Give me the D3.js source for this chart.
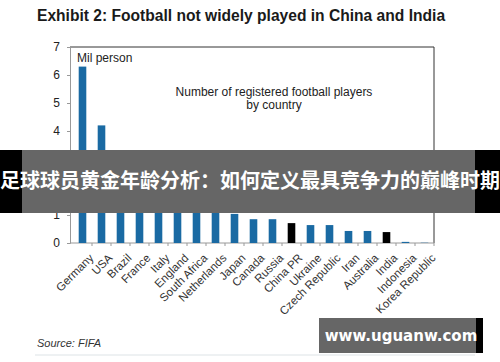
<!DOCTYPE html>
<html>
<head>
<meta charset="utf-8">
<script src="https://cdn.jsdelivr.net/npm/d3@7"></script>
<style>
  html, body { margin: 0; padding: 0; background: #fff; }
  svg { display: block; font-family: "Liberation Sans", Arial, sans-serif; }
</style>
</head>
<body>
<div id="chart"></div>
<script>
/* ---- data (million registered players) ---- */
const countries = ['Germany', 'USA', 'Brazil', 'France', 'Italy', 'England', 'South Africa',
  'Netherlands', 'Japan', 'Canada', 'Russia', 'China PR', 'Ukraine', 'Czech Republic',
  'Iran', 'Australia', 'India', 'Indonesia', 'Korea Republic'];
const players = [6.3, 4.2, 1.9, 1.8, 1.5, 1.5, 1.47, 1.12, 1.04, 0.85, 0.85, 0.71, 0.64, 0.64,
  0.43, 0.43, 0.39, 0.04, 0.01];
const highlight = ['China PR', 'India'];
const yTicks = [0, 1, 2, 3, 4, 5, 6, 7];

const width = 500, height = 362;
const plot = { left: 70, right: 434, top: 47, bottom: 243 };

const svg = d3.select('#chart').append('svg')
  .attr('width', width)
  .attr('height', height);

// Title
svg.append('text')
  .attr('x', 37).attr('y', 21)
  .attr('font-size', '15.6px')
  .attr('font-weight', 'bold')
  .attr('fill', '#1a1a1a')
  .text('Exhibit 2: Football not widely played in China and India');

const x = d3.scaleBand()
  .domain(countries)
  .range([73, plot.right])
  .paddingInner(0.6)
  .paddingOuter(0.3);

const y = d3.scaleLinear()
  .domain([0, 7])
  .range([plot.bottom, plot.top]);

// Frame (top + right)
svg.append('path')
  .attr('d', `M${plot.left},${plot.top}H${plot.right}V${plot.bottom}`)
  .attr('fill', 'none')
  .attr('stroke', '#333')
  .attr('stroke-width', 1);

// Y axis
const yAxis = svg.append('g')
  .attr('transform', `translate(${plot.left},0)`)
  .call(d3.axisLeft(y).tickValues(yTicks).tickSize(3).tickPadding(7).tickFormat(d3.format('d')));
yAxis.select('.domain').attr('stroke', '#999');
yAxis.selectAll('.tick line').attr('stroke', '#999');
yAxis.selectAll('text').attr('font-size', '12px').attr('fill', '#222')
  .attr('font-family', '"Liberation Sans", Arial, sans-serif');

// X axis with ticks at band boundaries
const xAxis = svg.append('g')
  .attr('transform', `translate(0,${plot.bottom})`);
xAxis.append('line')
  .attr('x1', plot.left).attr('x2', plot.right)
  .attr('stroke', '#999');
xAxis.selectAll('.xtick')
  .data(countries)
  .join('line')
  .attr('class', 'xtick')
  .attr('x1', d => x(d) + x.bandwidth() / 2 + x.step() / 2)
  .attr('x2', d => x(d) + x.bandwidth() / 2 + x.step() / 2)
  .attr('y1', 0).attr('y2', 3)
  .attr('stroke', '#999');
xAxis.selectAll('.xlabel')
  .data(countries)
  .join('text')
  .attr('class', 'xlabel')
  .attr('transform', d => `translate(${x(d) + x.bandwidth() / 2 + 6},${10}) rotate(-45)`)
  .attr('text-anchor', 'end')
  .attr('dy', '0.7em')
  .attr('font-size', '11.5px')
  .attr('fill', '#333')
  .text(d => d);

// Bars
svg.selectAll('.bar')
  .data(countries)
  .join('rect')
  .attr('class', 'bar')
  .attr('x', d => x(d))
  .attr('y', (d, i) => y(players[i]))
  .attr('width', x.bandwidth())
  .attr('height', (d, i) => y(0) - y(players[i]))
  .attr('fill', d => highlight.includes(d) ? '#000' : '#1a6aa3');

// Unit label
svg.append('text')
  .attr('x', 77).attr('y', 62)
  .attr('font-size', '12px')
  .attr('fill', '#222')
  .text('Mil person');

// Annotation
const note = svg.append('text')
  .attr('x', 274).attr('y', 96)
  .attr('text-anchor', 'middle')
  .attr('font-size', '12px')
  .attr('fill', '#222');
note.append('tspan').attr('x', 274).text('Number of registered football players');
note.append('tspan').attr('x', 274).attr('dy', 13).text('by country');

// Source
svg.append('text')
  .attr('x', 37).attr('y', 347)
  .attr('font-size', '11px')
  .attr('font-style', 'italic')
  .attr('fill', '#333')
  .text('Source: FIFA');
svg.append('line')
  .attr('x1', 35).attr('x2', 475)
  .attr('y1', 355).attr('y2', 355)
  .attr('stroke', '#dde3e6');

/* ---- overlay banners ---- */
svg.append('rect').attr('x', 0).attr('y', 150).attr('width', 500).attr('height', 63).attr('fill', '#000');
svg.append('rect').attr('x', 22).attr('y', 150).attr('width', 453).attr('height', 63).attr('fill', '#fff');
svg.append('rect').attr('x', 22).attr('y', 150).attr('width', 453).attr('height', 63).attr('fill', 'rgba(0,0,0,0.6)');
svg.append('text')
  .attr('x', 250).attr('y', 188)
  .attr('text-anchor', 'middle')
  .attr('font-family', '"Noto Sans CJK SC", sans-serif')
  .attr('font-size', '20px')
  .attr('font-weight', 'bold')
  .attr('fill', '#fff')
  .text('足球球员黄金年龄分析：如何定义最具竞争力的巅峰时期');

svg.append('rect').attr('x', 319).attr('y', 318).attr('width', 164).attr('height', 35).attr('fill', '#000');
svg.append('rect').attr('x', 319).attr('y', 318).attr('width', 157).attr('height', 35).attr('fill', '#666');
svg.append('text')
  .attr('x', 401).attr('y', 341)
  .attr('text-anchor', 'middle')
  .attr('font-family', '"DejaVu Sans", sans-serif')
  .attr('font-size', '15px')
  .attr('font-weight', 'bold')
  .attr('fill', '#fff')
  .text('www.uguanw.com');
</script>
</body>
</html>
